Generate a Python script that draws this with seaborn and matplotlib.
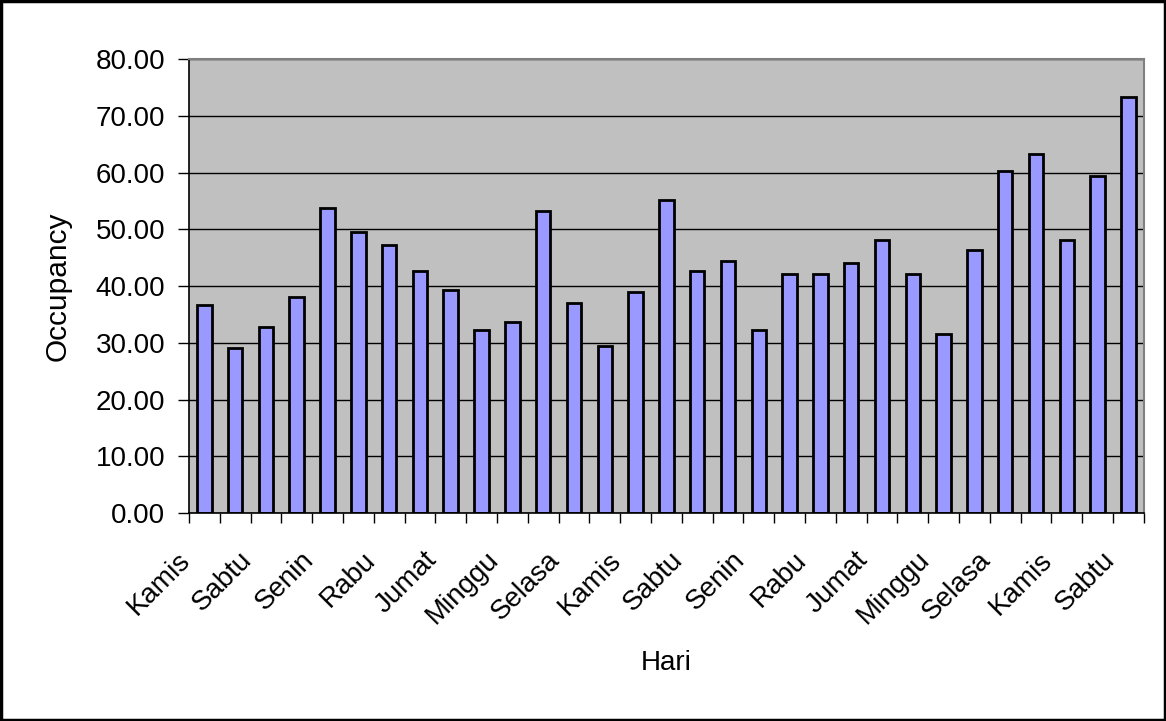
import matplotlib
matplotlib.use("Agg")
import matplotlib.pyplot as plt
import seaborn as sns
import numpy as np
import pandas as pd
from matplotlib.patches import Rectangle
from matplotlib.ticker import FixedLocator, FormatStrFormatter
import matplotlib.transforms as mtransforms

# Daily occupancy, 31 consecutive days starting on Thursday (Kamis)
week = ["Kamis", "Jumat", "Sabtu", "Minggu", "Senin", "Selasa", "Rabu"]
days = [week[i % 7] for i in range(31)]
occupancy = [36.6, 29.1, 32.8, 38.0, 53.8, 49.5, 47.3, 42.6, 39.3, 32.3,
             33.7, 53.3, 37.0, 29.5, 38.9, 55.2, 42.6, 44.5, 32.3, 42.2,
             42.2, 44.0, 48.2, 42.2, 31.5, 46.4, 60.3, 63.2, 48.2, 59.4,
             73.4]
y_ticks = [0, 10, 20, 30, 40, 50, 60, 70, 80]

df = pd.DataFrame({"pos": np.arange(len(occupancy)), "Hari": days,
                   "Occupancy": occupancy})

sns.set_theme(style="white")
plt.rcParams["font.family"] = ["Liberation Sans", "DejaVu Sans"]
plt.rcParams["text.color"] = "black"
plt.rcParams["axes.labelcolor"] = "black"
plt.rcParams["xtick.color"] = "black"
plt.rcParams["ytick.color"] = "black"

FS = 20

fig = plt.figure(figsize=(11.66, 7.21), dpi=100)
ax = fig.add_axes([0.162, 0.2885, 0.819, 0.6295])
ax.set_facecolor("#C0C0C0")

sns.barplot(data=df, x="pos", y="Occupancy", color="#9999FF", saturation=1,
            width=0.47, edgecolor="black", linewidth=2, ax=ax)

ax.set_xlim(-0.5, len(occupancy) - 0.5)
ax.set_ylim(0, 80)

# y axis
ax.set_yticks(y_ticks)
ax.yaxis.set_major_formatter(FormatStrFormatter("%.2f"))
ax.yaxis.grid(True, color="black", linewidth=1)
ax.set_axisbelow(True)
ax.tick_params(axis="y", which="major", direction="out", length=8,
               width=1, color="black", labelsize=FS, pad=9, left=True)

# x axis: boundary ticks, labels on every other day
label_pos = list(range(0, len(days), 2))
ax.set_xticks(label_pos)
ax.set_xticklabels([days[i] for i in label_pos], rotation=45, ha="right",
                   va="center", rotation_mode="anchor")
ax.xaxis.set_minor_locator(FixedLocator(np.arange(-0.5, len(days), 1.0)))
ax.tick_params(axis="x", which="major", length=0, labelsize=FS, pad=31)
ax.tick_params(axis="x", which="minor", direction="out", length=7,
               width=1, color="black", bottom=True)
offset = mtransforms.ScaledTranslation(-0.18, 0, fig.dpi_scale_trans)
for lbl in ax.get_xticklabels():
    lbl.set_transform(lbl.get_transform() + offset)

for side in ["left", "bottom"]:
    ax.spines[side].set_color("black")
    ax.spines[side].set_linewidth(1.2)
for side in ["top", "right"]:
    ax.spines[side].set_color("#808080")
    ax.spines[side].set_linewidth(1.5)

ax.set_xlabel("Hari", fontsize=FS, labelpad=15)
ax.set_ylabel("Occupancy", fontsize=21.5, labelpad=17)

# outer chart border
fig.patches.append(Rectangle((0.001, 0.001), 0.998, 0.997,
                             transform=fig.transFigure, fill=False,
                             edgecolor="black", linewidth=2.5))

fig.savefig("out.png", dpi=100, facecolor="white")
